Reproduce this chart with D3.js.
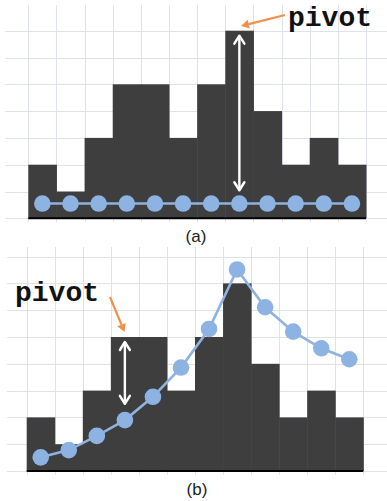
<!DOCTYPE html>
<html>
<head>
<meta charset="utf-8">
<script src="https://cdn.jsdelivr.net/npm/d3@7"></script>
<style>
  html, body { margin: 0; padding: 0; background: #fff; }
  svg { display: block; }
</style>
</head>
<body>
<svg id="chart" width="387" height="501"></svg>
<script>
// Histogram bin counts (12 bins), shared by both panels
const bins = ["b1","b2","b3","b4","b5","b6","b7","b8","b9","b10","b11","b12"];
const counts = [2, 1, 3, 5, 5, 3, 5, 7, 4, 2, 3, 2];
// Panel (a): flat starting curve
const curveA = [0.55, 0.55, 0.55, 0.55, 0.55, 0.55, 0.55, 0.55, 0.55, 0.55, 0.55, 0.55];
// Panel (b): fitted curve
const curveB = [0.51, 0.78, 1.31, 1.90, 2.77, 3.86, 5.30, 7.52, 6.11, 5.20, 4.58, 4.17];
// Pivot bin for each panel
const pivotA = 7;
const pivotB = 3;
const gridLevels = [0, 1, 2, 3, 4, 5, 6, 7, 8];

const svg = d3.select("#chart");
const colors = {
  bar: "#3e3e3e", grid: "#dfe1ef", point: "#8db3e3", line: "#8fb2df",
  orange: "#ee914a", text: "#222"
};

function panel(cfg) {
  const g = svg.append("g");
  const x = d3.scaleBand().domain(bins).range([cfg.x0, cfg.x1]).padding(0);
  const y = d3.scaleLinear().domain([0, 1]).range([cfg.base, cfg.base - cfg.unit]);

  // grid: horizontal lines
  g.append("g").selectAll("line").data(gridLevels.filter(v => v <= cfg.maxLevel)).join("line")
    .attr("x1", cfg.gridLeft).attr("x2", 387)
    .attr("y1", d => Math.round(y(d)) + 0.5).attr("y2", d => Math.round(y(d)) + 0.5)
    .attr("stroke", colors.grid).attr("stroke-width", 1);
  // grid: vertical lines at bin edges
  const edges = bins.map(b => x(b)).concat([cfg.x1]);
  g.append("g").selectAll("line").data(edges).join("line")
    .attr("x1", d => Math.round(d) + 0.5).attr("x2", d => Math.round(d) + 0.5)
    .attr("y1", cfg.gridTop).attr("y2", cfg.base + 4)
    .attr("stroke", colors.grid).attr("stroke-width", 1);

  // bars
  g.append("g").selectAll("rect").data(counts).join("rect")
    .attr("x", (d, i) => x(bins[i]))
    .attr("width", x.bandwidth() + 0.5)
    .attr("y", d => y(d))
    .attr("height", d => y(0) - y(d))
    .attr("fill", colors.bar);

  // baseline
  g.append("line")
    .attr("x1", cfg.x0).attr("x2", cfg.x1)
    .attr("y1", y(0)).attr("y2", y(0))
    .attr("stroke", "#000").attr("stroke-width", 2);

  // curve line and points
  const cx = i => x(bins[i]) + x.bandwidth() / 2;
  const line = d3.line().x((d, i) => cx(i)).y(d => y(d));
  g.append("path").datum(cfg.curve)
    .attr("d", line).attr("fill", "none")
    .attr("stroke", colors.line).attr("stroke-width", 2.6);
  g.append("g").selectAll("circle").data(cfg.curve).join("circle")
    .attr("cx", (d, i) => cx(i)).attr("cy", d => y(d))
    .attr("r", 8.3).attr("fill", colors.point);

  // white double arrow between bar top and curve point at the pivot
  const px = cx(cfg.pivot);
  const yTop = y(counts[cfg.pivot]) + 5;
  const yBot = y(cfg.curve[cfg.pivot]) - 8.3 - cfg.arrowGap;
  const wa = g.append("g").attr("stroke", "#fff").attr("stroke-width", 2.4)
    .attr("fill", "none").attr("stroke-linecap", "round").attr("stroke-linejoin", "round");
  wa.append("line").attr("x1", px).attr("x2", px).attr("y1", yTop + 1).attr("y2", yBot - 1);
  wa.append("path").attr("d", `M${px - 5},${yTop + 8}L${px},${yTop}L${px + 5},${yTop + 8}`);
  wa.append("path").attr("d", `M${px - 5},${yBot - 8}L${px},${yBot}L${px + 5},${yBot - 8}`);

  // orange pointer and "pivot" label
  const o = cfg.orange;
  const ang = Math.atan2(o.y2 - o.y1, o.x2 - o.x1);
  const hl = 8, hw = 4.5;
  const bx = o.x2 - hl * Math.cos(ang), by = o.y2 - hl * Math.sin(ang);
  g.append("line")
    .attr("x1", o.x1).attr("y1", o.y1).attr("x2", bx).attr("y2", by)
    .attr("stroke", colors.orange).attr("stroke-width", 2.2);
  g.append("path")
    .attr("d", `M${o.x2},${o.y2}L${bx + hw * Math.sin(ang)},${by - hw * Math.cos(ang)}L${bx - hw * Math.sin(ang)},${by + hw * Math.cos(ang)}Z`)
    .attr("fill", colors.orange);
  g.append("text")
    .attr("x", cfg.label.x).attr("y", cfg.label.y)
    .attr("font-family", "'Liberation Mono', 'Courier New', monospace")
    .attr("font-weight", "bold").attr("font-size", 28)
    .attr("fill", "#111").text("pivot");

  // caption
  g.append("text")
    .attr("x", cfg.captionX).attr("y", cfg.captionY)
    .attr("text-anchor", "middle")
    .attr("font-family", "'Liberation Sans', Arial, sans-serif")
    .attr("font-size", 17).attr("fill", colors.text)
    .text(cfg.caption);
}

panel({
  x0: 28.3, x1: 366, base: 218.3, unit: 26.8, maxLevel: 7,
  gridLeft: 5, gridTop: 5, curve: curveA, pivot: pivotA, arrowGap: 5,
  orange: { x1: 285, y1: 15, x2: 241, y2: 26 },
  label: { x: 288, y: 26 },
  caption: "(a)", captionX: 196, captionY: 242
});

panel({
  x0: 26.7, x1: 363.3, base: 471, unit: 26.8, maxLevel: 8,
  gridLeft: 7, gridTop: 247, curve: curveB, pivot: pivotB, arrowGap: 8,
  orange: { x1: 110, y1: 297, x2: 124.5, y2: 332 },
  label: { x: 15, y: 301 },
  caption: "(b)", captionX: 197, captionY: 495
});
</script>
</body>
</html>
